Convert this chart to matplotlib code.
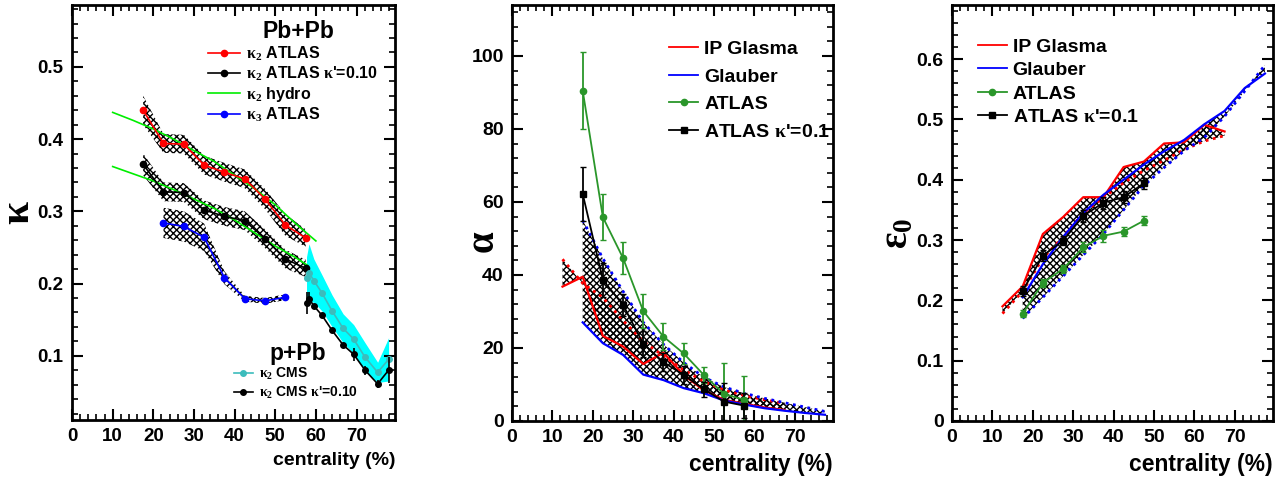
import numpy as np
import matplotlib.pyplot as plt
from matplotlib.ticker import MultipleLocator, FuncFormatter
from matplotlib.lines import Line2D

plt.rcParams['font.family'] = ['Liberation Sans', 'DejaVu Sans']
plt.rcParams['font.weight'] = 'bold'
plt.rcParams['axes.labelweight'] = 'bold'
plt.rcParams['mathtext.fontset'] = 'custom'
plt.rcParams['mathtext.rm'] = 'Liberation Serif'
plt.rcParams['mathtext.it'] = 'Liberation Serif:italic'
plt.rcParams['mathtext.bf'] = 'Liberation Sans:bold'
plt.rcParams['hatch.linewidth'] = 1.0
plt.rcParams['hatch.color'] = 'black'

HATCH = 'xxxxx'
GREEN = '#2a962a'
TEAL = '#3cbcbc'

# ---------------- kappa panel (Pb+Pb and p+Pb)
cent_pb = [17.5, 22.5, 27.5, 32.5, 37.5, 42.5, 47.5, 52.5, 57.5]
k2_atlas = [0.440, 0.394, 0.393, 0.364, 0.354, 0.345, 0.317, 0.281, 0.263]
k2_atlas_band = [0.020, 0.013, 0.013, 0.013, 0.013, 0.013, 0.014, 0.015, 0.012]
k2_atlas_kp = [0.365, 0.327, 0.326, 0.302, 0.293, 0.287, 0.262, 0.234, 0.221]
k2_atlas_kp_band = [0.015, 0.013, 0.013, 0.013, 0.013, 0.013, 0.013, 0.013, 0.012]

cent_k3 = [22.5, 27.5, 32.5, 37.5, 42.5, 47.5, 52.5]
k3_atlas = [0.284, 0.279, 0.264, 0.208, 0.179, 0.176, 0.181]
k3_atlas_band = [0.021, 0.021, 0.019, 0.009, 0.004, 0.004, 0.004]

cent_hydro = [10, 15, 20, 25, 30, 35, 40, 45, 50, 55, 60]
k2_hydro = [0.437, 0.426, 0.414, 0.400, 0.384, 0.369, 0.350, 0.331, 0.309, 0.283, 0.259]
cent_hydro_kp = [10, 15, 20, 25, 30, 35, 40, 45, 50, 55, 58]
k2_hydro_kp = [0.362, 0.352, 0.342, 0.330, 0.317, 0.304, 0.288, 0.270, 0.252, 0.236, 0.225]

cent_cms = [57.7, 58.3, 59.5, 61.5, 64.0, 66.7, 69.3, 72.1, 75.2, 77.9]
k2_cms = [0.207, 0.215, 0.204, 0.187, 0.162, 0.138, 0.123, 0.098, 0.077, 0.095]
k2_cms_band = [0.030, 0.040, 0.030, 0.025, 0.022, 0.020, 0.020, 0.020, 0.014, 0.030]
k2_cms_kp = [0.173, 0.179, 0.169, 0.156, 0.135, 0.115, 0.102, 0.080, 0.061, 0.080]
k2_cms_kp_err = [0.015, 0.009, 0.003, 0.003, 0.003, 0.003, 0.009, 0.006, 0.006, 0.018]

# ---------------- alpha panel
cent_atlas = [17.5, 22.5, 27.5, 32.5, 37.5, 42.5, 47.5, 52.5, 57.5]
alpha_atlas = [90.5, 55.8, 44.6, 30.1, 23.1, 18.5, 12.6, 7.4, 5.8]
alpha_atlas_err = [10.5, 6.3, 4.4, 4.6, 3.7, 2.8, 2.3, 8.6, 6.5]
alpha_kp = [62.2, 38.6, 31.8, 21.1, 16.1, 12.6, 8.7, 5.3, 4.2]
alpha_kp_err = [7.5, 4.7, 3.0, 3.5, 2.5, 2.5, 2.0, 5.0, 3.5]

cent_glasma = [12.5, 17.5, 22.5, 27.5, 32.5, 37.5, 42.5, 47.5, 52.5, 57.5, 62.5, 67.5]
alpha_glasma = [36.8, 39.5, 23.3, 20.4, 15.6, 18.7, 12.6, 8.4, 5.8, 4.7, 3.7, 3.0]
alpha_glasma_kp = [44.3, 37.7, 33.8, 27.5, 21.8, 17.8, 14.0, 10.8, 8.5, 7.0, 5.8, 4.8]
cent_glauber = [17.5, 22.5, 27.5, 32.5, 37.5, 42.5, 47.5, 52.5, 57.5, 62.5, 67.5, 72.5, 77.5]
alpha_glauber = [27.0, 21.3, 18.1, 12.7, 11.2, 9.0, 7.6, 5.6, 4.5, 3.5, 2.8, 2.2, 1.7]
alpha_glauber_kp = [55.0, 44.5, 35.5, 27.0, 21.0, 16.0, 12.0, 9.3, 7.6, 6.2, 5.0, 3.8, 2.6]

# ---------------- epsilon_0 panel
cent_eps = [17.5, 22.5, 27.5, 32.5, 37.5, 42.5, 47.5]
eps_atlas = [0.178, 0.229, 0.252, 0.288, 0.307, 0.314, 0.332]
eps_atlas_err = [0.006, 0.007, 0.007, 0.008, 0.010, 0.008, 0.007]
eps_kp = [0.216, 0.274, 0.299, 0.340, 0.362, 0.371, 0.394]
eps_kp_err = [0.008, 0.009, 0.007, 0.010, 0.010, 0.010, 0.009]
eps_glasma = [0.190, 0.223, 0.310, 0.338, 0.371, 0.371, 0.421, 0.430, 0.460, 0.462, 0.491, 0.480]
eps_glasma_kp = [0.178, 0.215, 0.270, 0.305, 0.345, 0.370, 0.395, 0.415, 0.432, 0.450, 0.464, 0.473]
eps_glauber = [0.205, 0.260, 0.305, 0.345, 0.375, 0.400, 0.425, 0.447, 0.466, 0.492, 0.514, 0.552, 0.576]
eps_glauber_kp = [0.170, 0.205, 0.240, 0.275, 0.310, 0.350, 0.390, 0.420, 0.448, 0.470, 0.505, 0.547, 0.590]


def style_axes(ax, ymajor, yminor, ylim, ticksize):
    ax.set_xlim(0, 79.5)
    ax.set_ylim(*ylim)
    ax.xaxis.set_major_locator(MultipleLocator(10))
    ax.xaxis.set_minor_locator(MultipleLocator(2))
    ax.yaxis.set_major_locator(MultipleLocator(ymajor))
    ax.yaxis.set_minor_locator(MultipleLocator(yminor))
    ax.tick_params(which='both', direction='in', top=True, right=True, labelsize=ticksize)
    ax.tick_params(which='major', length=8, width=1.5, pad=6)
    ax.tick_params(which='minor', length=4, width=1.2)
    for s in ax.spines.values():
        s.set_linewidth(2)


def band(ax, x, lo, hi):
    ax.fill_between(x, lo, hi, facecolor='none', edgecolor='black', linewidth=0, hatch=HATCH)


fig = plt.figure(figsize=(12.82, 4.8), dpi=100)
ax1 = fig.add_axes([0.0562, 0.125, 0.252, 0.865])
ax2 = fig.add_axes([0.3994, 0.123, 0.2504, 0.867])
ax3 = fig.add_axes([0.7426, 0.123, 0.2504, 0.867])

# ---- panel 1
x = np.array(cent_pb)
for y, e in [(k2_atlas, k2_atlas_band), (k2_atlas_kp, k2_atlas_kp_band)]:
    y, e = np.array(y), np.array(e)
    band(ax1, x, y - e, y + e)
y, e = np.array(k3_atlas), np.array(k3_atlas_band)
band(ax1, cent_k3, y - e, y + e)
y, e = np.array(k2_cms), np.array(k2_cms_band)
ax1.fill_between(cent_cms, y - e, y + e, color='#00ffff', linewidth=0)

ax1.plot(cent_hydro, k2_hydro, color='#00ee00', lw=1.2)
ax1.plot(cent_hydro_kp, k2_hydro_kp, color='#00ee00', lw=1.2)
ax1.plot(cent_pb, k2_atlas, '-o', color='red', lw=1.2, ms=4.5)
ax1.plot(cent_pb, k2_atlas_kp, '-o', color='black', lw=1.2, ms=4.5)
ax1.plot(cent_k3, k3_atlas, '-o', color='blue', lw=1.2, ms=4.5)
ax1.plot(cent_cms, k2_cms, '-o', color=TEAL, lw=1.2, ms=4)
ax1.errorbar(cent_cms, k2_cms_kp, yerr=k2_cms_kp_err, fmt='-o', color='black', lw=1.2, ms=4, capsize=0)

style_axes(ax1, 0.1, 0.02, (0.011, 0.586), 13.5)
ax1.yaxis.set_major_formatter(FuncFormatter(lambda v, p: f'{v:.1f}'))
ax1.set_ylabel(r'$\mathrm{\kappa}$', fontsize=30, rotation=90)
ax1.yaxis.set_label_coords(-0.105, 0.5)
ax1.set_xlabel('centrality (%)', fontsize=14, loc='right')
ax1.xaxis.set_label_coords(1.0, -0.076)

ax1.text(0.7, 0.935, 'Pb+Pb', transform=ax1.transAxes, fontsize=16.5, ha='center', va='center')
h_pb = [Line2D([], [], color='red', marker='o', ms=4.5, lw=1.2),
        Line2D([], [], color='black', marker='o', ms=4.5, lw=1.2),
        Line2D([], [], color='#00ee00', lw=1.2),
        Line2D([], [], color='blue', marker='o', ms=4.5, lw=1.2)]
l_pb = [r'$\mathrm{\kappa}_2$ ATLAS', r'$\mathrm{\kappa}_2$ ATLAS $\mathrm{\kappa}$' + "'=0.10",
        r'$\mathrm{\kappa}_2$ hydro', r'$\mathrm{\kappa}_3$ ATLAS']
leg1 = ax1.legend(h_pb, l_pb, loc='upper left', bbox_to_anchor=(0.42, 0.905), frameon=False,
                  fontsize=11.5, handlelength=2.0, handletextpad=0.4, labelspacing=0.12,
                  borderpad=0, borderaxespad=0)
ax1.add_artist(leg1)
ax1.text(0.7, 0.16, 'p+Pb', transform=ax1.transAxes, fontsize=16.5, ha='center', va='center')
h_p = [Line2D([], [], color=TEAL, marker='o', ms=4, lw=1.2),
       Line2D([], [], color='black', marker='o', ms=4, lw=1.2)]
l_p = [r'$\mathrm{\kappa}_2$ CMS', r'$\mathrm{\kappa}_2$ CMS $\mathrm{\kappa}$' + "'=0.10"]
ax1.legend(h_p, l_p, loc='upper left', bbox_to_anchor=(0.5, 0.13), frameon=False,
           fontsize=10, handlelength=1.4, handletextpad=0.4, labelspacing=0.2,
           borderpad=0, borderaxespad=0)

# ---- panel 2
band(ax2, cent_glasma, alpha_glasma, alpha_glasma_kp)
band(ax2, cent_glauber, alpha_glauber, alpha_glauber_kp)
ax2.plot(cent_glasma, alpha_glasma, color='red', lw=1.6)
ax2.plot(cent_glasma, alpha_glasma_kp, color='red', lw=2, ls=':')
ax2.plot(cent_glauber, alpha_glauber, color='blue', lw=1.6)
ax2.plot(cent_glauber, alpha_glauber_kp, color='blue', lw=2, ls=':')
ax2.errorbar(cent_atlas, alpha_atlas, yerr=alpha_atlas_err, fmt='-o', color=GREEN, lw=1.3, ms=4.5, capsize=2)
ax2.errorbar(cent_atlas, alpha_kp, yerr=alpha_kp_err, fmt='-s', color='black', lw=1.3, ms=4.5, capsize=2)

style_axes(ax2, 20, 4, (0, 114), 14)
ax2.set_ylabel(r'$\mathrm{\alpha}$', fontsize=28, rotation=90)
ax2.yaxis.set_label_coords(-0.03, 0.43)
ax2.set_xlabel('centrality (%)', fontsize=16.5, loc='right')
ax2.xaxis.set_label_coords(1.0, -0.078)

h_m = [Line2D([], [], color='red', lw=1.3),
       Line2D([], [], color='blue', lw=1.3),
       Line2D([], [], color=GREEN, marker='o', ms=4.5, lw=1.3),
       Line2D([], [], color='black', marker='s', ms=4.5, lw=1.3)]
l_m = ['IP Glasma', 'Glauber', 'ATLAS', r'ATLAS $\mathrm{\kappa}$' + "'=0.1"]
ax2.legend(h_m, l_m, loc='upper left', bbox_to_anchor=(0.49, 0.915), frameon=False,
           fontsize=14, handlelength=1.5, handletextpad=0.3, labelspacing=0.52,
           borderpad=0, borderaxespad=0)

# ---- panel 3
band(ax3, cent_glasma, eps_glasma_kp, eps_glasma)
band(ax3, cent_glauber, eps_glauber_kp, eps_glauber)
ax3.plot(cent_glasma, eps_glasma, color='red', lw=1.6)
ax3.plot(cent_glasma, eps_glasma_kp, color='red', lw=2, ls=':')
ax3.plot(cent_glauber, eps_glauber, color='blue', lw=1.6)
ax3.plot(cent_glauber, eps_glauber_kp, color='blue', lw=2, ls=':')
ax3.errorbar(cent_eps, eps_atlas, yerr=eps_atlas_err, fmt='-o', color=GREEN, lw=1.3, ms=4.5, capsize=2)
ax3.errorbar(cent_eps, eps_kp, yerr=eps_kp_err, fmt='-s', color='black', lw=1.3, ms=4.5, capsize=2)

style_axes(ax3, 0.1, 0.02, (0, 0.69), 14)
ax3.yaxis.set_major_formatter(FuncFormatter(lambda v, p: '0' if abs(v) < 1e-9 else f'{v:.1f}'))
ax3.set_ylabel(r'$\mathrm{\varepsilon}_0$', fontsize=28, rotation=90)
ax3.yaxis.set_label_coords(-0.115, 0.45)
ax3.set_xlabel('centrality (%)', fontsize=16.5, loc='right')
ax3.xaxis.set_label_coords(1.0, -0.078)

ax3.legend(h_m, l_m, loc='upper left', bbox_to_anchor=(0.08, 0.92), frameon=False,
           fontsize=14, handlelength=1.5, handletextpad=0.3, labelspacing=0.3,
           borderpad=0, borderaxespad=0)

fig.savefig('out.png', dpi=100)
